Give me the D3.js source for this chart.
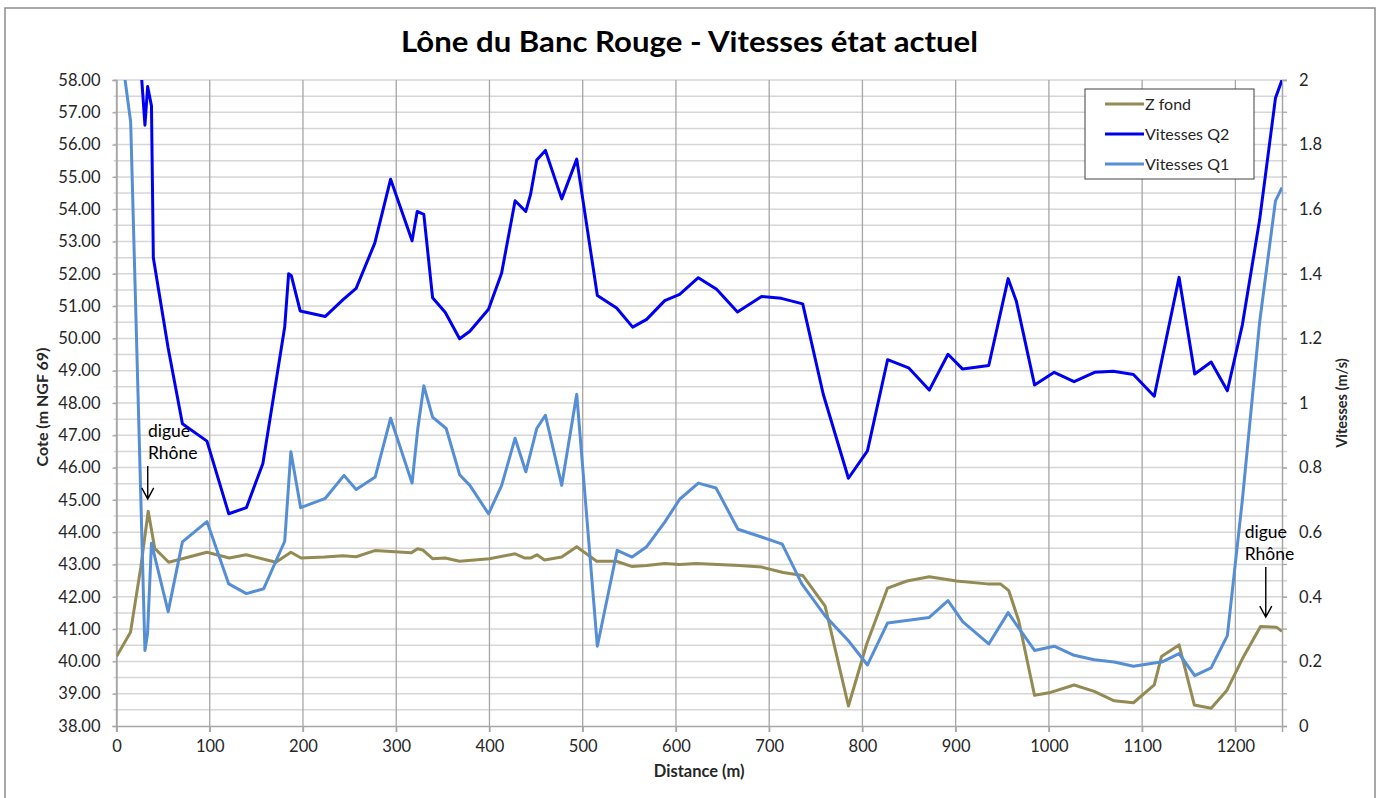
<!DOCTYPE html>
<html>
<head>
<meta charset="utf-8">
<script src="https://cdn.jsdelivr.net/npm/d3@7"></script>
<style>
  body { margin: 0; background: #fff; }
  text { font-family: Lato, "Open Sans", sans-serif; fill: #262626; }
</style>
</head>
<body>
<div id="chart"></div>
<script>
"use strict";

// Z fond (m NGF 69)
var distZ = [0, 15, 26, 34, 41, 56, 97, 121, 139, 171, 187, 198, 223, 243, 257, 277, 316, 323, 329, 339,
	352.5, 368, 400, 427.5, 438, 444, 451, 459, 477.5, 493.6, 515, 536, 552.5, 568.6, 588, 604, 622, 668,
	692, 715, 736, 760, 785, 804.6, 827, 847.7, 871.7, 901, 933.7, 948, 957, 967.7, 984.6, 1001.8, 1027,
	1048.6, 1070, 1090.7, 1113, 1120.7, 1139.6, 1156, 1174, 1191, 1207.5, 1227, 1244, 1250];
var zFond = [40.15, 40.9, 42.9, 44.65, 43.5, 43.07, 43.38, 43.2, 43.3, 43.07, 43.38, 43.2, 43.23, 43.27, 43.24, 43.43, 43.36, 43.49, 43.44, 43.18,
	43.2, 43.1, 43.18, 43.33, 43.2, 43.2, 43.3, 43.14, 43.23, 43.55, 43.1, 43.1, 42.94, 42.97, 43.03, 43.0, 43.03, 42.97,
	42.92, 42.75, 42.66, 41.71, 38.62, 40.54, 42.27, 42.49, 42.62, 42.49, 42.4, 42.4, 42.19, 41.25, 38.95, 39.04, 39.27,
	39.07, 38.78, 38.72, 39.27, 40.15, 40.51, 38.65, 38.55, 39.11, 40.08, 41.08, 41.06, 40.93];

// Vitesses Q2 (m/s)
var distQ2 = [15, 30.5, 33.4, 37.5, 39.5, 55.4, 70.7, 97, 120.4, 139.3, 157, 180.4, 184.6, 187.5, 197, 224, 243, 257,
	277, 294, 317, 322.5, 329.6, 339, 352.5, 368, 379, 399, 413, 427.5, 439, 444, 450.7, 460, 477.5, 493.6, 515.7,
	536.4, 553.6, 568.6, 588, 604, 624, 643.6, 666, 691.8, 713, 736, 758, 785, 805.4, 827, 849.5, 871.7, 891.8,
	907.5, 935.5, 956.3, 965, 984.6, 1005.7, 1027, 1049, 1069, 1090.7, 1113, 1139.6, 1156.4, 1174, 1191.4, 1207.5,
	1226, 1243, 1250];
var vitQ2 = [2.5, 1.86, 1.98, 1.92, 1.45, 1.17, 0.936, 0.882, 0.657, 0.676, 0.813, 1.235, 1.40, 1.394, 1.285, 1.268, 1.32, 1.355,
	1.495, 1.693, 1.502, 1.593, 1.584, 1.326, 1.281, 1.199, 1.222, 1.29, 1.402, 1.626, 1.593, 1.645, 1.752, 1.782, 1.632, 1.755, 1.333,
	1.294, 1.235, 1.259, 1.317, 1.336, 1.388, 1.352, 1.282, 1.33, 1.324, 1.307, 1.027, 0.767, 0.852, 1.134, 1.109, 1.04, 1.151,
	1.105, 1.116, 1.385, 1.316, 1.056, 1.095, 1.066, 1.095, 1.098, 1.088, 1.021, 1.389, 1.09, 1.127, 1.038, 1.242,
	1.567, 1.944, 2.0];

// Vitesses Q1 (m/s)
var distQ1 = [0, 15.2, 30.5, 33.3, 37.5, 55.4, 70.7, 97, 120.4, 139.3, 157.9, 180.4, 187, 197.5, 224, 244, 257, 277.5,
	294, 317, 323, 329.6, 339, 353.6, 368, 379, 399, 413, 427.5, 439, 450.7, 460, 477.5, 493.6, 515.7, 537, 553,
	568.6, 588, 604, 624, 643, 666.5, 691.8, 714, 735, 760, 785, 805.4, 827, 871.7, 891.8, 907.5, 935.5, 956.3,
	966, 984.6, 1005.7, 1027, 1048.6, 1070, 1090.7, 1113, 1121, 1139.6, 1156.4, 1174, 1191.4, 1207.5, 1226, 1243, 1250];
var vitQ1 = [2.2, 1.87, 0.234, 0.286, 0.566, 0.354, 0.57, 0.633, 0.44, 0.41, 0.425, 0.572, 0.849, 0.676, 0.705, 0.776, 0.732, 0.771,
	0.953, 0.752, 0.917, 1.053, 0.956, 0.921, 0.778, 0.745, 0.657, 0.744, 0.891, 0.787, 0.921, 0.962, 0.745, 1.027, 0.247, 0.544, 0.523,
	0.555, 0.631, 0.702, 0.752, 0.737, 0.609, 0.585, 0.563, 0.44, 0.341, 0.264, 0.189, 0.319, 0.336, 0.388, 0.323, 0.254, 0.351,
	0.31, 0.234, 0.247, 0.219, 0.205, 0.198, 0.185, 0.195, 0.198, 0.224, 0.156, 0.18, 0.28, 0.70, 1.25, 1.626, 1.667];

var xTicks = [0, 100, 200, 300, 400, 500, 600, 700, 800, 900, 1000, 1100, 1200];
var leftTicks = [38, 39, 40, 41, 42, 43, 44, 45, 46, 47, 48, 49, 50, 51, 52, 53, 54, 55, 56, 57, 58];
var rightTicks = [0, 0.2, 0.4, 0.6, 0.8, 1, 1.2, 1.4, 1.6, 1.8, 2];
var seriesNames = ["Z fond", "Vitesses Q2", "Vitesses Q1"];
var seriesColors = ["#948a54", "#0000f0", "#558ed5"];

//
// Setup Variables
//
var canvasWidth = 1382, canvasHeight = 798;
var margin = { top: 80, left: 116.5, right: 100, bottom: 72 };
var width = canvasWidth - margin.left - margin.right;
var height = canvasHeight - margin.top - margin.bottom;

var x = d3.scaleLinear().domain([0, 1250]).range([0, width]);
var yL = d3.scaleLinear().domain([38, 58]).range([height, 0]);
var yR = d3.scaleLinear().domain([0, 2]).range([height, 0]);

//
// Draw Canvas
//
var root = d3.select("#chart")
	.append("svg")
		.attr("width", canvasWidth)
		.attr("height", canvasHeight);

root.append("rect")
	.attr("x", 5).attr("y", 8)
	.attr("width", 1370).attr("height", 800)
	.attr("fill", "#fff")
	.attr("stroke", "#8c8c8c")
	.attr("stroke-width", 1.5);

root.append("text")
	.attr("x", 401).attr("y", 52)
	.attr("textLength", 577)
	.attr("lengthAdjust", "spacingAndGlyphs")
	.style("font-size", "28px")
	.style("font-weight", "bold")
	.style("fill", "#000")
	.text("Lône du Banc Rouge - Vitesses état actuel");

var svg = root.append("g")
	.attr("transform", "translate(" + margin.left + "," + margin.top + ")");

svg.append("clipPath").attr("id", "plotclip")
	.append("rect").attr("width", width).attr("height", height);

//
// Grid
//
svg.selectAll(".hgrid")
	.data(d3.range(38.5, 58.01, 0.5))
	.enter().append("line")
		.attr("x1", -3).attr("x2", width + 5)
		.attr("y1", function(d) { return yL(d); })
		.attr("y2", function(d) { return yL(d); })
		.attr("stroke", "#d6d6d6")
		.attr("stroke-width", 1.5);

svg.selectAll(".vgrid")
	.data(xTicks)
	.enter().append("line")
		.attr("x1", function(d) { return x(d); })
		.attr("x2", function(d) { return x(d); })
		.attr("y1", 0).attr("y2", height + 6)
		.attr("stroke", "#a6a6a6")
		.attr("stroke-width", 1.3);

//
// Axes
//
var xAxis = svg.append("g")
	.attr("transform", "translate(0," + height + ")")
	.call(d3.axisBottom(x).tickValues(xTicks).tickSize(6).tickPadding(8)
		.tickFormat(d3.format("d")));

var leftAxis = svg.append("g")
	.call(d3.axisLeft(yL).tickValues(leftTicks).tickSize(4).tickPadding(12)
		.tickFormat(d3.format(".2f")));

var rightAxis = svg.append("g")
	.attr("transform", "translate(" + width + ",0)")
	.call(d3.axisRight(yR).tickValues(rightTicks).tickSize(5).tickPadding(12)
		.tickFormat(function(d) { return d3.format("~g")(d); }));

[xAxis, leftAxis, rightAxis].forEach(function(a) {
	a.select(".domain").attr("stroke", "#a6a6a6").attr("stroke-width", 1.5);
	a.selectAll(".tick line").attr("stroke", "#a6a6a6").attr("stroke-width", 1.3);
	a.selectAll("text")
		.style("font-family", "Lato, sans-serif")
		.style("font-size", "16.5px")
		.style("fill", "#262626");
});

// right axis minor ticks
svg.selectAll(".rminor")
	.data(d3.range(0.1, 2, 0.2))
	.enter().append("line")
		.attr("x1", width).attr("x2", width + 5)
		.attr("y1", function(d) { return yR(d); })
		.attr("y2", function(d) { return yR(d); })
		.attr("stroke", "#a6a6a6");

//
// Axis titles
//
svg.append("text")
	.attr("x", x(625)).attr("y", height + 51)
	.attr("text-anchor", "middle")
	.style("font-size", "16.5px").style("font-weight", "bold")
	.text("Distance (m)");

svg.append("text")
	.attr("transform", "translate(-69," + (height / 2 + 4) + ") rotate(-90)")
	.attr("text-anchor", "middle")
	.style("font-size", "16px").style("font-weight", "bold")
	.text("Cote (m NGF 69)");

svg.append("text")
	.attr("transform", "translate(" + (width + 65) + "," + (height / 2) + ") rotate(-90)")
	.attr("text-anchor", "middle")
	.style("font-size", "14.5px").style("font-weight", "bold")
	.text("Vitesses (m/s)");

//
// Series
//
var plot = svg.append("g").attr("clip-path", "url(#plotclip)");

function drawLine(xs, ys, yScale, color) {
	var pts = xs.map(function(d, i) { return [d, ys[i]]; });
	plot.append("path")
		.datum(pts)
		.attr("fill", "none")
		.attr("stroke", color)
		.attr("stroke-width", 3)
		.attr("stroke-linejoin", "round")
		.attr("d", d3.line()
			.x(function(d) { return x(d[0]); })
			.y(function(d) { return yScale(d[1]); }));
}

drawLine(distZ, zFond, yL, seriesColors[0]);
drawLine(distQ2, vitQ2, yR, seriesColors[1]);
drawLine(distQ1, vitQ1, yR, seriesColors[2]);

//
// Annotations
//
function digue(xText, xArrow, yTop, yBottom) {
	svg.append("text")
		.attr("x", x(xText)).attr("y", yL(yTop) - 29)
		.style("font-size", "17.5px").style("fill", "#000")
		.text("digue");
	svg.append("text")
		.attr("x", x(xText)).attr("y", yL(yTop) - 7)
		.style("font-size", "17.5px").style("fill", "#000")
		.text("Rhône");
	var ax = x(xArrow), y2 = yL(yBottom);
	svg.append("path")
		.attr("d", "M" + ax + "," + yL(yTop) + "L" + ax + "," + y2 +
			"M" + (ax - 6) + "," + (y2 - 11) + "L" + ax + "," + y2 + "L" + (ax + 6) + "," + (y2 - 11))
		.attr("fill", "none")
		.attr("stroke", "#000")
		.attr("stroke-width", 1.4);
}
digue(33.8, 33.5, 46.05, 45.03);
digue(1210, 1232.6, 42.92, 41.37);

//
// Legend
//
var legend = root.append("g").attr("transform", "translate(1085,89)");
legend.append("rect")
	.attr("width", 169).attr("height", 90)
	.attr("fill", "#fff")
	.attr("stroke", "#404040")
	.attr("stroke-width", 1);

var item = legend.selectAll(".item")
	.data(seriesNames)
	.enter().append("g")
		.attr("transform", function(d, i) { return "translate(0," + (15 + i * 30) + ")"; });
item.append("line")
	.attr("x1", 20).attr("x2", 59)
	.attr("stroke", function(d, i) { return seriesColors[i]; })
	.attr("stroke-width", 3);
item.append("text")
	.attr("x", 60).attr("dy", "0.35em")
	.style("font-size", "16px")
	.text(function(d) { return d; });
</script>
</body>
</html>
